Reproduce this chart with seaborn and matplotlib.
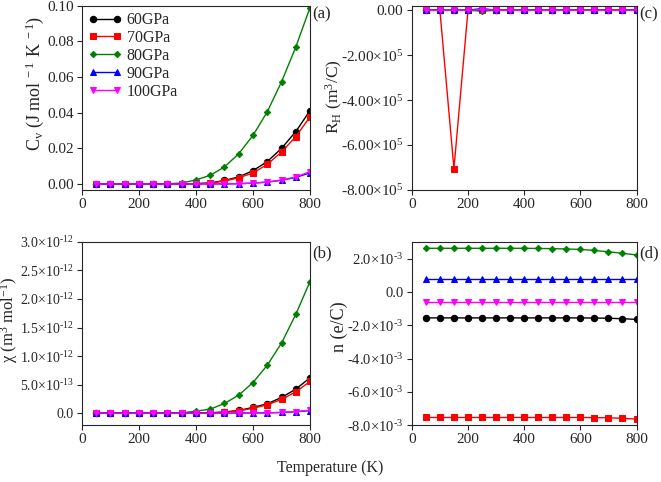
import numpy as np
import pandas as pd
import matplotlib
matplotlib.use("Agg")
import matplotlib.pyplot as plt
import seaborn as sns
from matplotlib.ticker import FixedLocator

sns.set_style("ticks")
plt.rcParams['font.family'] = ['Liberation Serif', 'DejaVu Serif']
plt.rcParams['mathtext.fontset'] = 'custom'
plt.rcParams['mathtext.rm'] = 'Liberation Serif'
plt.rcParams['mathtext.it'] = 'Liberation Serif:italic'

# temperature grid (K)
temps = [50, 100, 150, 200, 250, 300, 350, 400, 450, 500, 550, 600, 650, 700, 750, 800]
pressures = ['60GPa', '70GPa', '80GPa', '90GPa', '100GPa']

# (a) heat capacity Cv
cv_60 = [0, 0, 0, 0, 0, 0, 0.0001, 0.0002, 0.0006, 0.0020, 0.0040, 0.0075, 0.0126, 0.0200, 0.0294, 0.0412]
cv_70 = [0, 0, 0, 0, 0, 0, 0.0001, 0.0002, 0.0005, 0.0017, 0.0035, 0.0062, 0.0110, 0.0180, 0.0265, 0.0377]
cv_80 = [0, 0, 0, 0, 0, 0.0001, 0.0006, 0.0023, 0.0049, 0.0096, 0.0170, 0.0273, 0.0405, 0.0573, 0.0768, 0.0990]
cv_90 = [0, 0, 0, 0, 0, 0, 0, 0, 0.0001, 0.0001, 0.0002, 0.0005, 0.0011, 0.0021, 0.0037, 0.0063]
cv_100 = [0, 0, 0, 0, 0, 0, 0, 0, 0.0001, 0.0001, 0.0002, 0.0005, 0.0011, 0.0022, 0.0040, 0.0069]

# (b) susceptibility chi (units of 1e-12)
chi_60 = [0, 0, 0, 0, 0, 0, 0, 0.002, 0.006, 0.020, 0.047, 0.100, 0.164, 0.275, 0.420, 0.620]
chi_70 = [0, 0, 0, 0, 0, 0, 0, 0.002, 0.005, 0.017, 0.040, 0.085, 0.146, 0.240, 0.374, 0.555]
chi_80 = [0, 0, 0, 0, 0, 0, 0.005, 0.035, 0.070, 0.170, 0.315, 0.537, 0.840, 1.227, 1.730, 2.307]
chi_90 = [0, 0, 0, 0, 0, 0, 0, 0, 0, 0.001, 0.002, 0.003, 0.005, 0.012, 0.025, 0.045]
chi_100 = [0, 0, 0, 0, 0, 0, 0, 0, 0, 0.001, 0.002, 0.003, 0.005, 0.013, 0.027, 0.049]

# (c) Hall coefficient RH (units of 1e5)
rh_60 = [0, 0, 0, 0, 0.02, 0, 0, 0, 0, 0, 0, 0, 0, 0, 0, 0]
rh_70 = [0, 0, -7.05, 0, 0, 0, 0, 0, 0, 0, 0, 0, 0, 0, 0, 0]
rh_80 = [0, 0, 0, 0, -0.04, 0, 0, 0, 0, 0, 0, 0, 0, 0, 0, 0]
rh_90 = [0, 0, 0, 0, 0.08, 0, 0, 0, 0, 0, 0, 0, 0, 0, 0, 0]
rh_100 = [0, 0, 0, 0, 0.03, 0, 0, 0, 0, 0, 0, 0, 0, 0, 0, 0]

# (d) carrier concentration n (units of 1e-3)
n_60 = [-1.56, -1.56, -1.56, -1.56, -1.56, -1.56, -1.56, -1.56, -1.56, -1.56, -1.56, -1.56, -1.57, -1.58, -1.61, -1.65]
n_70 = [-7.54, -7.54, -7.54, -7.54, -7.54, -7.54, -7.54, -7.54, -7.54, -7.54, -7.54, -7.54, -7.55, -7.56, -7.59, -7.64]
n_80 = [2.62, 2.62, 2.62, 2.62, 2.62, 2.62, 2.62, 2.62, 2.61, 2.60, 2.58, 2.55, 2.49, 2.41, 2.32, 2.22]
n_90 = [0.78, 0.78, 0.78, 0.78, 0.78, 0.78, 0.78, 0.78, 0.78, 0.78, 0.78, 0.78, 0.78, 0.78, 0.78, 0.78]
n_100 = [-0.58, -0.58, -0.58, -0.58, -0.58, -0.58, -0.58, -0.58, -0.58, -0.58, -0.58, -0.58, -0.58, -0.58, -0.58, -0.58]

# y tick values and their labels
cv_ticks = [0, 0.02, 0.04, 0.06, 0.08, 0.10]
rh_ticks = [0, -2e5, -4e5, -6e5, -8e5]
rh_labels = ["0.00", "-2.00×10$^{5}$", "-4.00×10$^{5}$", "-6.00×10$^{5}$", "-8.00×10$^{5}$"]
chi_ticks = [0, 0.5e-12, 1e-12, 1.5e-12, 2e-12, 2.5e-12, 3e-12]
chi_labels = ["0.0", r"5.0×10$^{\text{-13}}$", r"1.0×10$^{\text{-12}}$", r"1.5×10$^{\text{-12}}$",
              r"2.0×10$^{\text{-12}}$", r"2.5×10$^{\text{-12}}$", r"3.0×10$^{\text{-12}}$"]
n_ticks = [-8e-3, -6e-3, -4e-3, -2e-3, 0, 2e-3]
n_labels = [r"-8.0×10$^{\text{-3}}$", r"-6.0×10$^{\text{-3}}$", r"-4.0×10$^{\text{-3}}$",
            r"-2.0×10$^{\text{-3}}$", "0.0", r"2.0×10$^{\text{-3}}$"]

colors = ['black', 'red', 'green', 'blue', 'magenta']
markers = ['o', 's', 'D', '^', 'v']
msizes = [4.6, 4.2, 3.2, 4.4, 4.6]

fig = plt.figure(figsize=(6.61, 4.82), dpi=100)
ax_a = fig.add_axes([0.124, 0.606, 0.345, 0.382])
ax_c = fig.add_axes([0.623, 0.606, 0.340, 0.382])
ax_b = fig.add_axes([0.124, 0.118, 0.345, 0.380])
ax_d = fig.add_axes([0.623, 0.118, 0.340, 0.380])


def draw(ax, series, scale=1.0, legend=False):
    for vals, p, c, m, ms in zip(series, pressures, colors, markers, msizes):
        sns.lineplot(x=temps, y=np.array(vals) * scale, color=c, marker=m,
                     markersize=ms, markeredgecolor=c, linewidth=1.0,
                     label=p if legend else None, legend=False, ax=ax)
    ax.set_xlim(0, 800)
    ax.xaxis.set_major_locator(FixedLocator([0, 200, 400, 600, 800]))
    for s in ax.spines.values():
        s.set_linewidth(0.8)
    ax.tick_params(labelsize=11, width=0.8, length=3.5, pad=2.5)


draw(ax_a, [cv_60, cv_70, cv_80, cv_90, cv_100], legend=True)
ax_a.set_ylim(-0.0033, 0.10)
ax_a.set_yticks(cv_ticks, [f"{v:.2f}" for v in cv_ticks])
ax_a.set_ylabel(r"C$_\mathrm{v}$ (J mol$^{\ -1}$ K$^{\ -1}$)", fontsize=13)
ax_a.yaxis.set_label_coords(-0.158, 0.58)
ax_a.legend(loc='upper left', frameon=False, fontsize=11.5, numpoints=2,
            handlelength=2.1, labelspacing=0.12, borderaxespad=0.1,
            handletextpad=0.3, borderpad=0.3)

draw(ax_c, [rh_60, rh_70, rh_80, rh_90, rh_100], scale=1e5)
ax_c.set_ylim(-8e5, 0.2e5)
ax_c.set_yticks(rh_ticks, rh_labels)
ax_c.set_ylabel(r"R$_\mathrm{H}$ (m$^3$/C)", fontsize=12.5)
ax_c.yaxis.set_label_coords(-0.298, 0.505)

draw(ax_b, [chi_60, chi_70, chi_80, chi_90, chi_100], scale=1e-12)
ax_b.set_ylim(-0.21e-12, 3.0e-12)
ax_b.set_yticks(chi_ticks, chi_labels)
ax_b.tick_params(axis='y', labelsize=10)
ax_b.set_ylabel(r"χ (m$^3$ mol$^{-1}$)", fontsize=12)
ax_b.yaxis.set_label_coords(-0.27, 0.574)

draw(ax_d, [n_60, n_70, n_80, n_90, n_100], scale=1e-3)
ax_d.set_ylim(-8e-3, 3.0e-3)
ax_d.set_yticks(n_ticks, n_labels)
ax_d.tick_params(axis='y', labelsize=10.5)
ax_d.set_ylabel("n (e/C)", fontsize=13)
ax_d.yaxis.set_label_coords(-0.285, 0.535)

# panel tags
fig.text(0.473, 0.962, "(a)", fontsize=12)
fig.text(0.967, 0.962, "(c)", fontsize=12)
fig.text(0.473, 0.465, "(b)", fontsize=12)
fig.text(0.967, 0.465, "(d)", fontsize=12)

fig.text(0.5, 0.02, "Temperature (K)", ha='center', fontsize=11.5)

fig.savefig("out.png", dpi=100)
